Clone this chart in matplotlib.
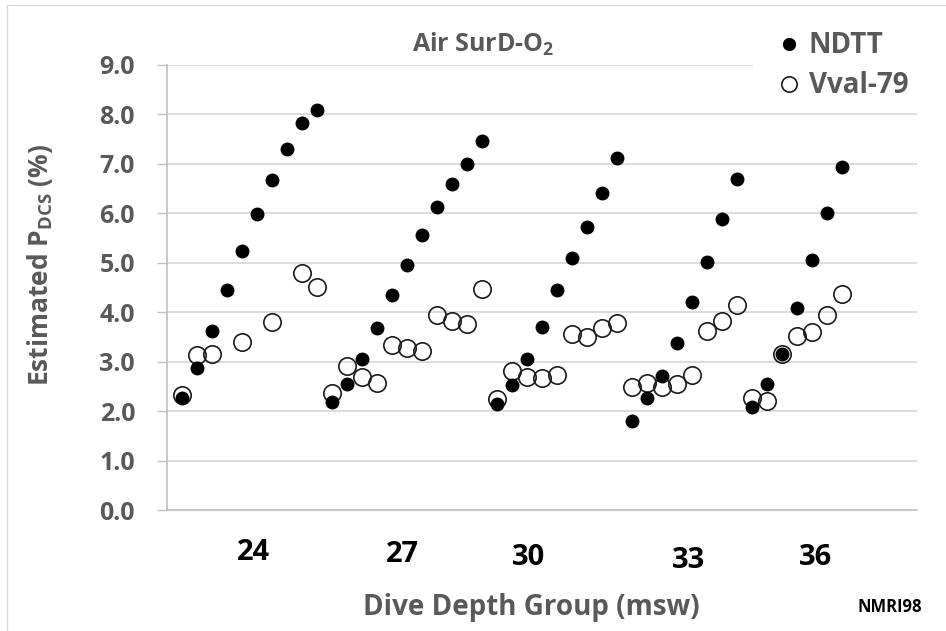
import numpy as np
import matplotlib
matplotlib.use("Agg")
import matplotlib.pyplot as plt
from matplotlib.lines import Line2D

# estimated P_DCS (%) per dive, grouped by depth (msw)
groups = ["24", "27", "30", "33", "36"]
ndtt = [
    [2.26, 2.88, 3.62, 4.45, 5.24, 5.98, 6.68, 7.31, 7.82, 8.09],
    [2.19, 2.54, 3.06, 3.69, 4.34, 4.96, 5.56, 6.12, 6.59, 7.00, 7.46],
    [2.15, 2.52, 3.05, 3.70, 4.45, 5.10, 5.73, 6.42, 7.11],
    [1.80, 2.27, 2.72, 3.38, 4.20, 5.02, 5.88, 6.69],
    [2.09, 2.54, 3.16, 4.09, 5.06, 6.00, 6.94],
]
vval79 = [
    [2.32, 3.13, 3.15, None, 3.39, None, 3.80, None, 4.79, 4.52],
    [2.36, 2.91, 2.70, 2.57, 3.33, 3.28, 3.21, 3.95, 3.82, 3.77, 4.46],
    [2.25, 2.81, 2.68, 2.66, 2.74, 3.56, 3.50, 3.69, 3.78],
    [2.48, 2.56, 2.48, 2.54, 2.74, 3.63, 3.82, 4.14],
    [2.27, 2.21, 3.15, 3.51, 3.60, 3.95, 4.37],
]
group_label_x = [4.76, 14.72, 23.1, 33.77, 42.2]
group_label_y = [-0.85, -0.91, -0.97, -1.03, -0.97]

GRAY = "#595959"
plt.rcParams["font.family"] = ["Open Sans", "DejaVu Sans"]
plt.rcParams["font.weight"] = "bold"
plt.rcParams["mathtext.fontset"] = "custom"
plt.rcParams["mathtext.rm"] = "Open Sans:bold"

y1 = np.array([v for g in ndtt for v in g], dtype=float)
y2 = np.array([np.nan if v is None else v for g in vval79 for v in g], dtype=float)
x = np.arange(len(y1))

fig = plt.figure(figsize=(9.46, 6.31), dpi=100)
ax = fig.add_axes([167 / 946, 1 - 510 / 631, 750 / 946, 445 / 631])

for t in range(0, 9):
    ax.axhline(t, color="#D9D9D9", lw=1.3, zorder=0)
ax.axhline(9, xmax=(752 - 167) / 750, color="#D9D9D9", lw=1.3, zorder=0)

ax.plot(x, y2, "o", ms=12.5, mfc="none", mec="#1a1a1a", mew=1.2, ls="none", zorder=2)
ax.plot(x, y1, "o", ms=9, color="black", ls="none", zorder=3)

ax.set_xlim(-1, 49)
ax.set_ylim(0, 9)
ax.set_yticks(np.arange(0, 10))
ax.set_yticklabels(["%.1f" % v for v in range(10)])
ax.set_xticks([])
ax.tick_params(axis="y", length=7, width=1, color="#BFBFBF", labelsize=18,
               labelcolor=GRAY, pad=16)
for s in ["top", "right"]:
    ax.spines[s].set_visible(False)
for s in ["left", "bottom"]:
    ax.spines[s].set_color("#BFBFBF")
    ax.spines[s].set_linewidth(1.2)

for lab, gx, gy in zip(groups, group_label_x, group_label_y):
    ax.text(gx, gy, lab, ha="center", va="center", fontsize=21,
            fontweight="bold", color="black", clip_on=False)

fig.text(531 / 946, 1 - 608 / 631, "Dive Depth Group (msw)", ha="center",
         va="center", fontsize=20, color=GRAY)
fig.text(890 / 946, 1 - 607 / 631, "NMRI98", ha="center", va="center",
         fontsize=12, color="black")
fig.text(40 / 946, 1 - 265 / 631, r"Estimated P$_\mathrm{DCS}$ (%)", ha="center",
         va="center", rotation=90, fontsize=19, color=GRAY)
fig.text(483 / 946, 1 - 44 / 631, r"Air SurD-O$_\mathrm{2}$", ha="center",
         va="center", fontsize=18, color=GRAY)

handles = [
    Line2D([], [], marker="o", ls="none", ms=8.5, color="black"),
    Line2D([], [], marker="o", ls="none", ms=11, mfc="none", mec="#1a1a1a", mew=1.2),
]
fig.legend(handles, ["NDTT", "Vval-79"], loc="upper left",
           bbox_to_anchor=(756 / 946, 1 - 9 / 631), frameon=False,
           fontsize=20, labelcolor=GRAY, handlelength=0.8, handletextpad=0.3,
           labelspacing=0.4, borderpad=0.3)

# faint frame around the chart area
fig.add_artist(Line2D([7 / 946, 7 / 946], [0, 1 - 5 / 631], color="#D9D9D9", lw=1))
fig.add_artist(Line2D([7 / 946, 1], [1 - 5 / 631, 1 - 5 / 631], color="#D9D9D9", lw=1))

fig.savefig("out.png", dpi=100)
